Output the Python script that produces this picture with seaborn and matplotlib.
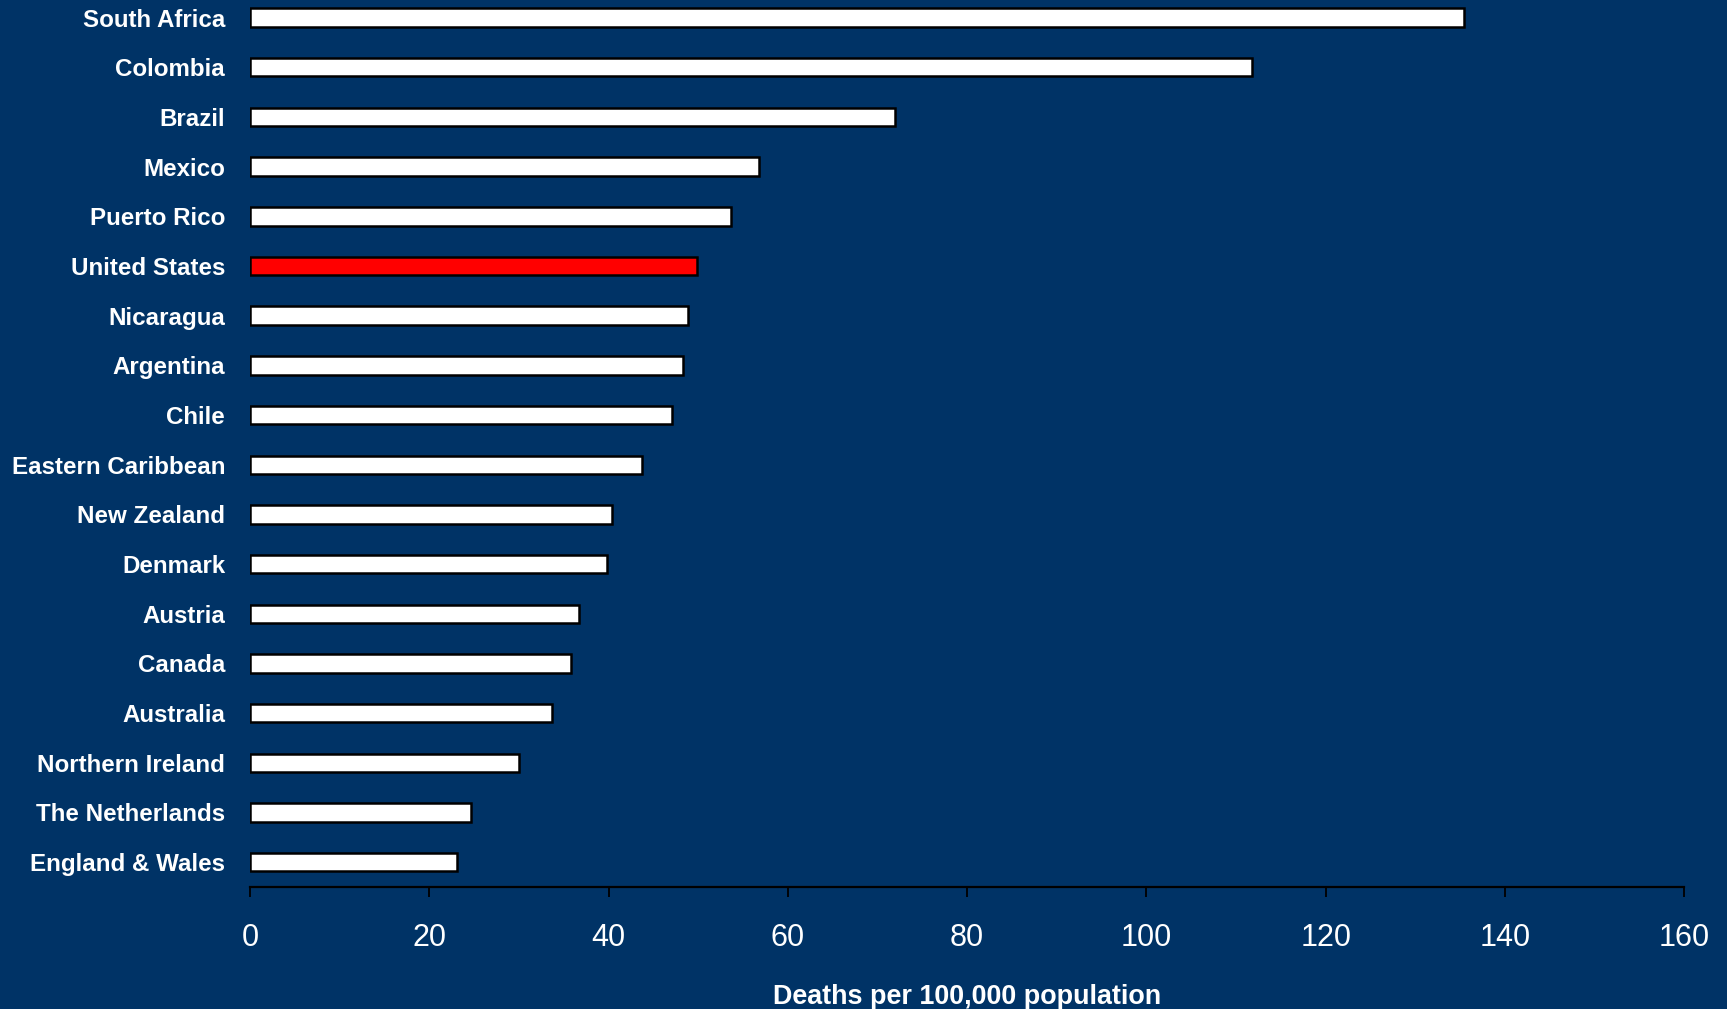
import matplotlib
matplotlib.use("Agg")
import matplotlib.pyplot as plt
import seaborn as sns
import pandas as pd

countries = [
    "South Africa", "Colombia", "Brazil", "Mexico", "Puerto Rico",
    "United States", "Nicaragua", "Argentina", "Chile", "Eastern Caribbean",
    "New Zealand", "Denmark", "Austria", "Canada", "Australia",
    "Northern Ireland", "The Netherlands", "England & Wales",
]
deaths = [
    135.4, 111.8, 72.0, 56.8, 53.7,
    49.9, 48.9, 48.3, 47.1, 43.7,
    40.4, 39.8, 36.7, 35.8, 33.7,
    30.0, 24.7, 23.1,
]
highlight = "United States"
x_ticks = [0, 20, 40, 60, 80, 100, 120, 140, 160]
x_label = "Deaths per 100,000 population"

BG = "#003366"

sns.set_theme(style="white")
plt.rcParams["font.family"] = ["Liberation Sans", "DejaVu Sans"]

df = pd.DataFrame({"country": countries, "deaths": deaths})
palette = {c: ("#FF0000" if c == highlight else "#FFFFFF") for c in countries}

fig = plt.figure(figsize=(17.27, 10.09), dpi=100, facecolor=BG)
ax = fig.add_axes([0.1448, 0.1209, 0.8304, 0.8791])
ax.set_facecolor(BG)

sns.barplot(
    data=df, x="deaths", y="country", hue="country", palette=palette,
    order=countries, hue_order=countries, legend=False,
    width=0.37, edgecolor="black", linewidth=1.8, saturation=1, ax=ax,
)

ax.set_xlim(0, 160)
ax.set_ylim(17.5, -0.354)
ax.set_xticks(x_ticks)

for side in ("top", "right", "left"):
    ax.spines[side].set_visible(False)
ax.spines["bottom"].set_color("black")
ax.spines["bottom"].set_linewidth(1.6)

ax.tick_params(axis="x", direction="out", length=7, width=1.3, color="black",
               bottom=True, pad=19, labelcolor="white", labelsize=22)
ax.tick_params(axis="y", length=0, pad=18, labelcolor="white")
for lbl in ax.get_yticklabels():
    lbl.set_fontsize(17.4)
    lbl.set_fontweight("bold")

ax.set_ylabel("")
ax.set_xlabel(x_label, color="white", fontsize=19.4, fontweight="bold",
              labelpad=22)
ax.grid(False)

fig.savefig("out.png", dpi=100, facecolor=BG)
